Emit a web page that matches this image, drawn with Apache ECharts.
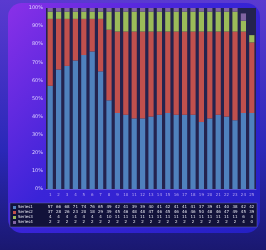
<!DOCTYPE html>
<html>
<head>
<meta charset="utf-8">
<script src="https://cdn.jsdelivr.net/npm/echarts@6/dist/echarts.min.js"></script>
<style>
html, body { margin: 0; padding: 0; background: #221f86; }
#myChart { width: 266px; height: 250px; }
</style>
</head>
<body>
<div id="myChart"></div>
<script>
var categories = ['1', '2', '3', '4', '5', '6', '7', '8', '9', '10', '11', '12', '13',
  '14', '15', '16', '17', '18', '19', '20', '21', '22', '23', '24', '25'];
var seriesNames = ['Series1', 'Series2', 'Series3', 'Series4'];
var blueData = [57, 66, 68, 71, 74, 76, 65, 49, 42, 41, 39, 39, 40, 41, 42, 41, 41, 41, 37, 39, 41, 40, 38, 42, 42];
var redData = [37, 28, 26, 23, 20, 18, 29, 39, 45, 46, 48, 48, 47, 46, 45, 46, 46, 46, 50, 48, 46, 47, 49, 45, 39];
var greenData = [4, 4, 4, 4, 4, 4, 4, 10, 11, 11, 11, 11, 11, 11, 11, 11, 11, 11, 11, 11, 11, 11, 11, 6, 4];
var purpleData = [2, 2, 2, 2, 2, 2, 2, 2, 2, 2, 2, 2, 2, 2, 2, 2, 2, 2, 2, 2, 2, 2, 2, 4, 0];
var yTicks = [0, 10, 20, 30, 40, 50, 60, 70, 80, 90, 100];

var colors = ['#4f81bd', '#c0504d', '#9bbb59', '#8064a2'];
var allData = [blueData, redData, greenData, purpleData];

var chart = echarts.init(document.getElementById('myChart'));

// table rows under the plot: one hidden-line category axis per series
var tableAxes = allData.map(function (d, i) {
  return {
    type: 'category',
    gridIndex: 0,
    position: 'bottom',
    offset: 16 + i * 5,
    data: d.map(String),
    axisLine: { show: false },
    axisTick: { show: false },
    axisLabel: { interval: 0, margin: 0, fontSize: 4, color: '#e6e6f0', fontFamily: 'DejaVu Sans' }
  };
});

// row names + keys at the left of the table
var rowLabels = [];
seriesNames.forEach(function (name, i) {
  rowLabels.push({
    type: 'rect', z: 5,
    shape: { x: 13, y: 206 + i * 5, width: 3, height: 3 },
    style: { fill: colors[i] }
  });
  rowLabels.push({
    type: 'text', z: 5,
    style: { x: 18, y: 205 + i * 5, text: name, fontSize: 4, fill: '#e6e6f0', fontFamily: 'DejaVu Sans' }
  });
});

chart.setOption({
  animation: false,
  graphic: [
    {
      type: 'rect', z: -10,
      shape: { x: 0, y: 0, width: 266, height: 250 },
      style: {
        fill: new echarts.graphic.LinearGradient(0, 0, 0, 1, [
          { offset: 0, color: '#5a3ad0' },
          { offset: 0.6, color: '#2a28b8' },
          { offset: 1, color: '#1a1870' }
        ])
      }
    },
    {
      type: 'rect', z: -9,
      shape: { x: 8, y: 3, width: 252, height: 230, r: 14 },
      style: {
        fill: new echarts.graphic.LinearGradient(0, 0, 1, 1, [
          { offset: 0, color: '#8a30e8' },
          { offset: 0.45, color: '#3a24d8' },
          { offset: 1, color: '#2420c4' }
        ])
      }
    },
    {
      type: 'rect', z: -8,
      shape: { x: 10, y: 203, width: 247, height: 24 },
      style: { fill: '#12123a', stroke: '#6a6ab0', lineWidth: 0.5 }
    }
  ].concat(rowLabels),
  grid: {
    left: 46, right: 10, top: 8, bottom: 61,
    show: true, backgroundColor: '#24234e', borderWidth: 0
  },
  xAxis: [
    {
      type: 'category',
      data: categories,
      axisLine: { lineStyle: { color: '#9088d8', width: 0.5 } },
      axisTick: { show: false },
      axisLabel: { interval: 0, margin: 4, fontSize: 4, color: '#b9a8f0', fontFamily: 'DejaVu Sans' }
    }
  ].concat(tableAxes),
  yAxis: {
    type: 'value',
    min: 0, max: 100, interval: 10,
    axisLine: { show: false },
    axisTick: { show: false },
    splitLine: { show: false },
    axisLabel: {
      margin: 3, fontSize: 5, color: '#ddd4ff', fontFamily: 'DejaVu Sans',
      formatter: function (v) { return yTicks.indexOf(v) >= 0 ? v + '%' : ''; }
    }
  },
  series: allData.map(function (d, i) {
    return {
      name: seriesNames[i],
      type: 'bar',
      stack: 'total',
      data: d,
      barWidth: '62%',
      itemStyle: { color: colors[i] }
    };
  })
});
</script>
</body>
</html>
